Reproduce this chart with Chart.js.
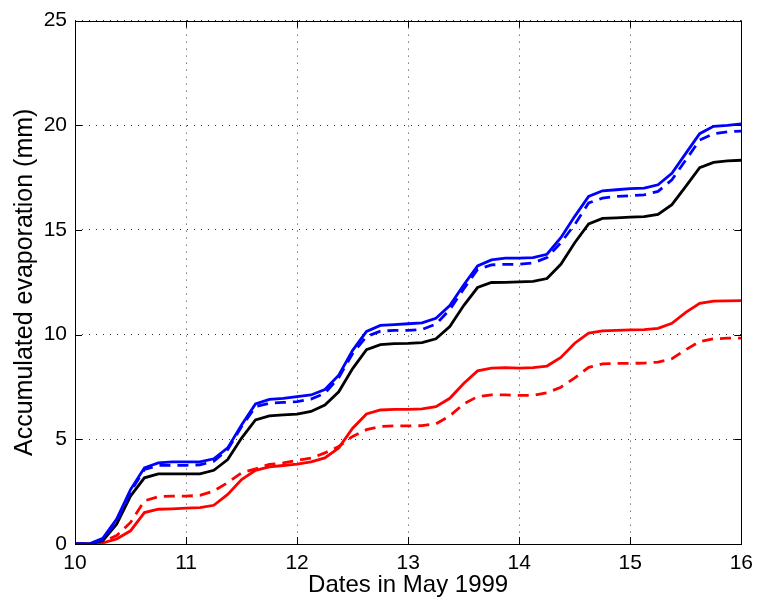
<!DOCTYPE html>
<html>
<head>
<meta charset="utf-8">
<script src="https://cdn.jsdelivr.net/npm/chart.js@4"></script>
<style>
  html, body { margin: 0; padding: 0; background: #fff; }
  canvas { display: block; }
</style>
</head>
<body>
<canvas id="grafico" width="760" height="600"></canvas>
<script>
// time in days (May 1999), 3-hourly
const dias = [
  10, 10.125, 10.25, 10.375, 10.5, 10.625, 10.75, 10.875,
  11, 11.125, 11.25, 11.375, 11.5, 11.625, 11.75, 11.875,
  12, 12.125, 12.25, 12.375, 12.5, 12.625, 12.75, 12.875,
  13, 13.125, 13.25, 13.375, 13.5, 13.625, 13.75, 13.875,
  14, 14.125, 14.25, 14.375, 14.5, 14.625, 14.75, 14.875,
  15, 15.125, 15.25, 15.375, 15.5, 15.625, 15.75, 15.875,
  16
];

const azulSolida = [
  0, 0, 0.27, 1.19, 2.6, 3.64, 3.87, 3.92,
  3.92, 3.92, 4.07, 4.59, 5.69, 6.69, 6.91, 6.96,
  7.04, 7.12, 7.38, 8.06, 9.25, 10.15, 10.44, 10.48,
  10.52, 10.56, 10.78, 11.39, 12.37, 13.28, 13.57, 13.65,
  13.65, 13.68, 13.84, 14.63, 15.65, 16.6, 16.87, 16.92,
  16.97, 17.0, 17.16, 17.71, 18.66, 19.6, 19.95, 20.0,
  20.07
];

const azulDiscontinua = [
  0, 0, 0.2, 1.1, 2.5, 3.56, 3.75, 3.76,
  3.76, 3.78, 3.95, 4.51, 5.61, 6.56, 6.72, 6.76,
  6.8, 6.92, 7.2, 7.95, 9.1, 9.91, 10.17, 10.2,
  10.2, 10.25, 10.5, 11.2, 12.18, 13.12, 13.33, 13.36,
  13.36, 13.42, 13.68, 14.39, 15.26, 16.29, 16.52, 16.6,
  16.63, 16.68, 16.84, 17.4, 18.34, 19.29, 19.6, 19.69,
  19.72
];

const negra = [
  0, 0, 0.16, 0.95, 2.29, 3.16, 3.35, 3.35,
  3.35, 3.35, 3.52, 4.03, 5.06, 5.93, 6.12, 6.17,
  6.2, 6.33, 6.64, 7.27, 8.38, 9.28, 9.52, 9.57,
  9.58, 9.62, 9.8, 10.39, 11.39, 12.25, 12.49, 12.5,
  12.52, 12.54, 12.68, 13.36, 14.39, 15.29, 15.55, 15.58,
  15.61, 15.64, 15.74, 16.21, 17.08, 17.98, 18.23, 18.3,
  18.33
];

const rojaSolida = [
  0, 0, 0.05, 0.24, 0.63, 1.5, 1.66, 1.68,
  1.71, 1.74, 1.85, 2.37, 3.08, 3.52, 3.68, 3.75,
  3.82, 3.92, 4.11, 4.59, 5.53, 6.21, 6.4, 6.43,
  6.43, 6.45, 6.56, 6.96, 7.67, 8.27, 8.4, 8.42,
  8.4, 8.42, 8.5, 8.91, 9.59, 10.07, 10.18, 10.2,
  10.23, 10.24, 10.3, 10.54, 11.06, 11.49, 11.6, 11.61,
  11.62
];

const rojaDiscontinua = [
  0, 0, 0.1, 0.4, 1.03, 2.06, 2.26, 2.29,
  2.29, 2.32, 2.53, 2.93, 3.4, 3.59, 3.8, 3.87,
  4.0, 4.1, 4.35, 4.66, 5.14, 5.46, 5.62, 5.64,
  5.64, 5.65, 5.74, 6.12, 6.69, 7.04, 7.12, 7.12,
  7.1, 7.1, 7.22, 7.49, 7.93, 8.44, 8.6, 8.63,
  8.63, 8.64, 8.69, 8.85, 9.28, 9.67, 9.8, 9.83,
  9.83
];

const ticksX = [10, 11, 12, 13, 14, 15, 16];
const ticksY = [0, 5, 10, 15, 20, 25];

const fuente = "'Liberation Sans', Arial, Helvetica, sans-serif";

function serie(valores, color, guiones) {
  return {
    data: dias.map((d, i) => ({ x: d, y: valores[i] })),
    borderColor: color,
    borderWidth: 2.8,
    borderDash: guiones ? [11, 7] : [],
    pointRadius: 0,
    tension: 0,
    fill: false
  };
}

// box around the axes plus inward tick marks on all four sides
const marco = {
  id: 'marco',
  afterDatasetsDraw(chart) {
    const { ctx, chartArea: a, scales } = chart;
    const largo = 7;
    ctx.save();
    ctx.strokeStyle = '#000';
    ctx.lineWidth = 1;
    ctx.beginPath();
    scales.x.ticks.forEach(t => {
      const px = Math.round(scales.x.getPixelForValue(t.value)) + 0.5;
      ctx.moveTo(px, a.bottom); ctx.lineTo(px, a.bottom - largo);
      ctx.moveTo(px, a.top); ctx.lineTo(px, a.top + largo);
    });
    scales.y.ticks.forEach(t => {
      const py = Math.round(scales.y.getPixelForValue(t.value)) + 0.5;
      ctx.moveTo(a.left, py); ctx.lineTo(a.left + largo, py);
      ctx.moveTo(a.right, py); ctx.lineTo(a.right - largo, py);
    });
    ctx.stroke();
    ctx.strokeRect(Math.round(a.left) + 0.5, Math.round(a.top) + 0.5,
      Math.round(a.right - a.left), Math.round(a.bottom - a.top));
    ctx.restore();
  }
};

new Chart(document.getElementById('grafico').getContext('2d'), {
  type: 'line',
  data: {
    datasets: [
      serie(azulSolida, '#0000ff', false),
      serie(azulDiscontinua, '#0000ff', true),
      serie(negra, '#000000', false),
      serie(rojaSolida, '#ff0000', false),
      serie(rojaDiscontinua, '#ff0000', true)
    ]
  },
  options: {
    responsive: false,
    animation: false,
    devicePixelRatio: 1,
    layout: { padding: { top: 17, right: 18, left: 0, bottom: 0 } },
    plugins: {
      legend: { display: false },
      tooltip: { enabled: false }
    },
    scales: {
      x: {
        type: 'linear',
        min: 10,
        max: 16,
        afterBuildTicks: s => { s.ticks = ticksX.map(v => ({ value: v })); },
        afterFit: s => { s.height = 56; },
        border: { display: false, dash: [1, 6] },
        grid: { color: 'rgba(0,0,0,0.8)', lineWidth: 1, drawTicks: false },
        ticks: { color: '#000', padding: 7, font: { family: fuente, size: 21 }, maxRotation: 0 },
        title: {
          display: true,
          text: 'Dates in May 1999',
          color: '#000',
          font: { family: fuente, size: 24 },
          padding: { top: 0, bottom: 0 }
        }
      },
      y: {
        min: 0,
        max: 25,
        afterBuildTicks: s => { s.ticks = ticksY.map(v => ({ value: v })); },
        afterFit: s => { s.width = 75; },
        border: { display: false, dash: [1, 6] },
        grid: { color: 'rgba(0,0,0,0.8)', lineWidth: 1, drawTicks: false },
        ticks: { color: '#000', padding: 8, font: { family: fuente, size: 21 } },
        title: {
          display: true,
          text: 'Accumulated evaporation (mm)',
          color: '#000',
          font: { family: fuente, size: 25 },
          padding: { top: 10, bottom: 0 }
        }
      }
    }
  },
  plugins: [marco]
});
</script>
</body>
</html>
